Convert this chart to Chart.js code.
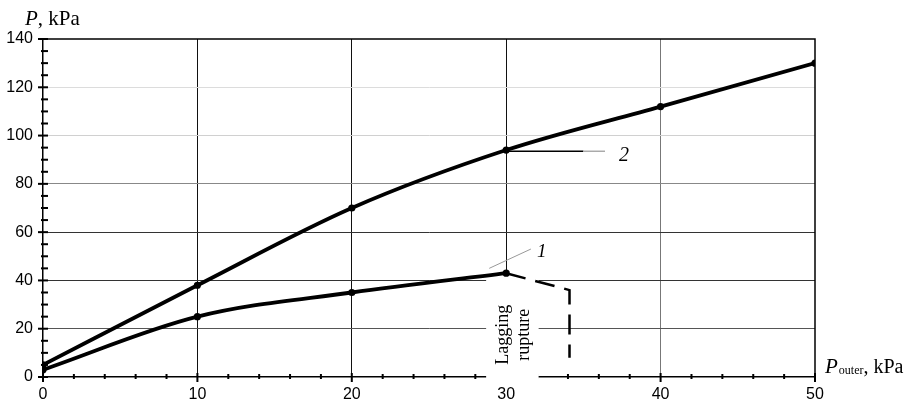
<!DOCTYPE html>
<html>
<head>
<meta charset="utf-8">
<script src="https://cdn.jsdelivr.net/npm/chart.js@4"></script>
<style>
html,body{margin:0;padding:0;background:#fff;}
#wrap{width:905px;height:405px;position:relative;}
</style>
</head>
<body>
<div id="wrap"><canvas id="c" width="905" height="405"></canvas></div>
<script>
// ---- data ----
const xValues1 = [0, 10, 20, 30];
const series1 = [3, 25, 35, 43];
const xValues2 = [0, 10, 20, 30, 40, 50];
const series2 = [5, 38, 70, 94, 112, 130];
const ruptureX = [30, 34.1, 34.1];
const ruptureY = [43, 36, 8];
const xTickLabels = [0, 10, 20, 30, 40, 50];
const yTickLabels = [0, 20, 40, 60, 80, 100, 120, 140];

const toPts = (xs, ys) => xs.map((x, i) => ({x: x, y: ys[i]}));

const serif = '"Liberation Serif", "Times New Roman", serif';
const sans = '"Liberation Sans", Arial, sans-serif';

const yGridColor = {20:'#555', 40:'#333', 60:'#333', 80:'#888', 100:'#d0d0d0', 120:'#dcdcdc'};
const xGridColor = {10:'#111', 20:'#111', 30:'#111', 40:'#777'};

const decor = {
  id: 'decor',
  beforeDatasetsDraw(chart) {
    const ctx = chart.ctx, a = chart.chartArea;
    const xs = chart.scales.x, ys = chart.scales.y;
    ctx.save();
    ctx.strokeStyle = '#000';
    ctx.lineWidth = 1.5;
    ctx.beginPath();
    ctx.moveTo(a.left, a.top); ctx.lineTo(a.right, a.top); ctx.lineTo(a.right, a.bottom);
    ctx.stroke();
    ctx.lineWidth = 2;
    for (let v = 0; v <= 140; v += 5) {
      const py = ys.getPixelForValue(v);
      const major = yTickLabels.includes(v);
      ctx.beginPath();
      ctx.moveTo(a.left - (major ? 5 : 2), py);
      ctx.lineTo(a.left + 5, py);
      ctx.stroke();
    }
    for (let v = 0; v <= 50; v += 2) {
      const px = xs.getPixelForValue(v);
      const major = xTickLabels.includes(v);
      ctx.beginPath();
      ctx.moveTo(px, a.bottom - (major ? 4 : 3));
      ctx.lineTo(px, a.bottom + (major ? 5 : 2));
      ctx.stroke();
    }
    const bx0 = xs.getPixelForValue(28.7), bx1 = xs.getPixelForValue(32.1);
    const by0 = ys.getPixelForValue(42.5);
    ctx.fillStyle = '#fff';
    ctx.fillRect(bx0, by0, bx1 - bx0, a.bottom + 8 - by0);
    ctx.restore();
  },
  afterDatasetsDraw(chart) {
    const ctx = chart.ctx, a = chart.chartArea;
    const xs = chart.scales.x, ys = chart.scales.y;
    ctx.save();
    ctx.fillStyle = '#000';
    ctx.textBaseline = 'alphabetic';
    ctx.textAlign = 'left';
    ctx.font = 'italic 21px ' + serif;
    ctx.fillText('P', 25, 25);
    let w = ctx.measureText('P').width;
    ctx.font = '21px ' + serif;
    ctx.fillText(', kPa', 25 + w, 25);
    const tx = a.right + 10, tyb = a.bottom - 4;
    ctx.font = 'italic 21px ' + serif;
    ctx.fillText('P', tx, tyb);
    w = ctx.measureText('P').width;
    ctx.font = '12px ' + serif;
    ctx.fillText('outer', tx + w + 1, tyb + 1);
    const w2 = ctx.measureText('outer').width;
    ctx.font = '20px ' + serif;
    ctx.fillText(', kPa', tx + w + 1 + w2, tyb);
    ctx.lineWidth = 1;
    ctx.strokeStyle = '#999';
    ctx.beginPath();
    ctx.moveTo(xs.getPixelForValue(28.9), ys.getPixelForValue(45.0));
    ctx.lineTo(xs.getPixelForValue(31.6), ys.getPixelForValue(53.0));
    ctx.stroke();
    ctx.font = 'italic 19px ' + serif;
    ctx.fillText('1', xs.getPixelForValue(32.0), ys.getPixelForValue(49.5));
    const ly = ys.getPixelForValue(93.5);
    ctx.strokeStyle = '#000';
    ctx.lineWidth = 1.5;
    ctx.beginPath();
    ctx.moveTo(xs.getPixelForValue(30), ly);
    ctx.lineTo(xs.getPixelForValue(35.0), ly);
    ctx.stroke();
    ctx.strokeStyle = '#aaa';
    ctx.beginPath();
    ctx.moveTo(xs.getPixelForValue(35.0), ly);
    ctx.lineTo(xs.getPixelForValue(36.4), ly);
    ctx.stroke();
    ctx.font = 'italic 20px ' + serif;
    ctx.fillText('2', xs.getPixelForValue(37.3), ys.getPixelForValue(89.5));
    ctx.font = '18px ' + serif;
    ctx.textAlign = 'center';
    const cy = ys.getPixelForValue(17.5);
    ctx.save();
    ctx.translate(xs.getPixelForValue(30.1), cy);
    ctx.rotate(-Math.PI / 2);
    ctx.fillText('Lagging', 0, 0);
    ctx.restore();
    ctx.save();
    ctx.translate(xs.getPixelForValue(31.5), cy);
    ctx.rotate(-Math.PI / 2);
    ctx.fillText('rupture', 0, 0);
    ctx.restore();
    ctx.restore();
  }
};

new Chart(document.getElementById('c'), {
  type: 'line',
  data: {
    datasets: [
      {
        label: '1',
        data: toPts(xValues1, series1),
        borderColor: '#000', backgroundColor: '#000',
        borderWidth: 3.8, pointRadius: 3.6, pointBackgroundColor: '#000', pointBorderWidth: 0,
        cubicInterpolationMode: 'monotone'
      },
      {
        label: '2',
        data: toPts(xValues2, series2),
        borderColor: '#000', backgroundColor: '#000',
        borderWidth: 3.8, pointRadius: 3.6, pointBackgroundColor: '#000', pointBorderWidth: 0,
        cubicInterpolationMode: 'monotone'
      },
      {
        label: 'rupture',
        data: toPts(ruptureX, ruptureY),
        borderColor: '#000', borderWidth: 2.5, borderDash: [20, 10],
        pointRadius: 0, tension: 0
      }
    ]
  },
  options: {
    responsive: false,
    animation: false,
    events: [],
    layout: {padding: {top: 39, right: 90, left: 0, bottom: 0}},
    plugins: {legend: {display: false}, tooltip: {enabled: false}},
    scales: {
      x: {
        type: 'linear', min: 0, max: 50,
        afterFit: s => { s.height = 28; },
        ticks: {
          stepSize: 2, autoSkip: false, maxRotation: 0, padding: 8,
          color: '#000', font: {family: sans, size: 16},
          callback: v => xTickLabels.includes(v) ? String(v) : ''
        },
        grid: {
          drawTicks: false, lineWidth: 1,
          color: c => xGridColor[c.tick.value] || 'rgba(0,0,0,0)'
        },
        border: {display: true, color: '#000', width: 1.5}
      },
      y: {
        type: 'linear', min: 0, max: 140,
        afterFit: s => { s.width = 43; },
        ticks: {
          stepSize: 5, autoSkip: false, padding: 10,
          color: '#000', font: {family: sans, size: 16},
          callback: v => yTickLabels.includes(v) ? String(v) : ''
        },
        grid: {
          drawTicks: false, lineWidth: 1,
          color: c => yGridColor[c.tick.value] || 'rgba(0,0,0,0)'
        },
        border: {display: true, color: '#000', width: 1.5}
      }
    }
  },
  plugins: [decor]
});
</script>
</body>
</html>
